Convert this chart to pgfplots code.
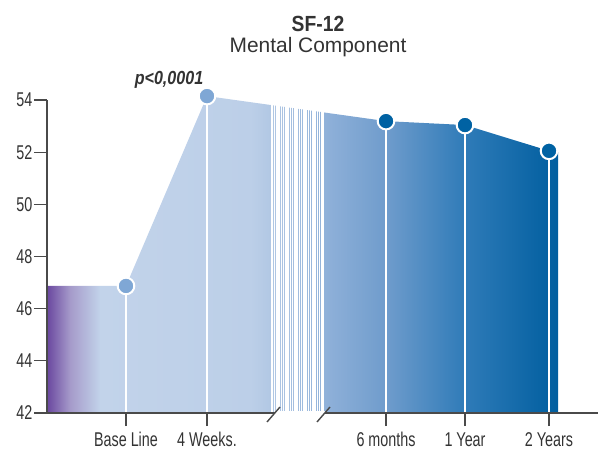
\documentclass[border=0pt]{standalone}
\usepackage{fontspec}
\setmainfont{Liberation Sans}
\newfontfamily\cond{Liberation Sans}[FakeStretch=0.72]
\newfontfamily\condt{Liberation Sans}[FakeStretch=0.88]
\newfontfamily\condp{Liberation Sans}[FakeStretch=0.85]
\usepackage{pgfplots}
\pgfplotsset{compat=1.18}
\definecolor{axisgray}{HTML}{4A4A4A}
\definecolor{txtgray}{HTML}{333333}
\definecolor{cP}{HTML}{6A479F}
\definecolor{cL1}{HTML}{A59ACA}
\definecolor{cL2}{HTML}{C2D3EA}
\definecolor{cL3}{HTML}{BCCFE8}
\definecolor{cL4}{HTML}{B2C8E4}
\definecolor{cM1}{HTML}{8DAFD8}
\definecolor{cM2}{HTML}{6F9CCC}
\definecolor{cM3}{HTML}{2F7BB8}
\definecolor{cD}{HTML}{005E9F}
\definecolor{ptlight}{HTML}{7FA7D5}
\definecolor{ptdark}{HTML}{0062A3}
\pgfdeclarehorizontalshading{areagrad}{100bp}{color(0bp)=(cP); color(25bp)=(cP); color(27.25bp)=(cL1); color(30.2bp)=(cL2); color(44.9bp)=(cL3); color(46.8bp)=(cL4); color(52.7bp)=(cM1); color(58.2bp)=(cM2); color(65.9bp)=(cM3); color(75bp)=(cD); color(100bp)=(cD)}
\begin{document}
\begin{tikzpicture}
\path[use as bounding box] (0,0) rectangle (606bp,453bp);
\begin{axis}[
  at={(47bp,40bp)}, anchor=south west,
  scale only axis, width=551bp, height=313bp,
  xmin=47, xmax=598, ymin=42, ymax=54,
  clip=false, axis on top,
  axis x line=bottom, axis y line=left,
  axis line style={-, draw=axisgray, line width=1.3bp},
  tick align=outside, major tick length=13bp,
  tick style={draw=axisgray, line width=1.3bp},
  ytick={42,44,46,48,50,52,54},
  yticklabels={42,44,46,48,50,52,54},
  xtick={126,207,386,465,549},
  xticklabels={Base Line,4 Weeks.,6 months,1 Year,2 Years},
  ticklabel style={font=\cond\fontsize{20}{22}\selectfont, text=txtgray},
  yticklabel style={inner sep=1.5bp},
  xticklabel style={inner sep=0bp, text height=14.5bp, text depth=4bp, yshift=-6bp},
]
% area
\addplot[draw=none, shade, shading=areagrad] coordinates {
 (47,42) (47,46.87) (126,46.87) (207,54.15) (386,53.19) (465,53.04) (549,52.05) (558,52.0) (558,42)};
% stripes in the break region
\addplot[white, line width=1.1bp, unbounded coords=jump] coordinates {
 (271.5,42) (271.5,54.3) (nan,nan)
 (272.6,42) (272.6,54.3) (nan,nan)
 (274.5,42) (274.5,54.3) (nan,nan)
 (276.2,42) (276.2,54.3) (nan,nan)
 (278.0,42) (278.0,54.3) (nan,nan)
 (279.8,42) (279.8,54.3) (nan,nan)
 (281.5,42) (281.5,54.3) (nan,nan)
 (283.4,42) (283.4,54.3) (nan,nan)
 (285.2,42) (285.2,54.3) (nan,nan)
 (287.0,42) (287.0,54.3) (nan,nan)
 (288.7,42) (288.7,54.3) (nan,nan)
 (290.6,42) (290.6,54.3) (nan,nan)
 (292.4,42) (292.4,54.3) (nan,nan)
 (294.1,42) (294.1,54.3) (nan,nan)
 (296.0,42) (296.0,54.3) (nan,nan)
 (297.8,42) (297.8,54.3) (nan,nan)
 (299.5,42) (299.5,54.3) (nan,nan)
 (301.4,42) (301.4,54.3) (nan,nan)
 (303.2,42) (303.2,54.3) (nan,nan)
 (305.0,42) (305.0,54.3) (nan,nan)
 (306.7,42) (306.7,54.3) (nan,nan)
 (308.6,42) (308.6,54.3) (nan,nan)
 (310.4,42) (310.4,54.3) (nan,nan)
 (312.1,42) (312.1,54.3) (nan,nan)
 (314.0,42) (314.0,54.3) (nan,nan)
 (315.8,42) (315.8,54.3) (nan,nan)
 (317.5,42) (317.5,54.3) (nan,nan)
 (319.4,42) (319.4,54.3) (nan,nan)
 (321.2,42) (321.2,54.3) (nan,nan)
 (322.8,42) (322.8,54.3) (nan,nan)
 (323.8,42) (323.8,54.3)};
% drop lines
\addplot[white, line width=2.2bp, unbounded coords=jump] coordinates {
 (126,42) (126,46.87) (nan,nan)
 (207,42) (207,54.15) (nan,nan)
 (386,42) (386,53.19) (nan,nan)
 (465,42) (465,53.04) (nan,nan)
 (549,42) (549,52.05)};
% markers
\addplot[only marks, mark=*, mark size=8.3bp, mark options={draw=white, line width=2bp, fill=ptlight}] coordinates {(126,46.87) (207,54.15)};
\addplot[only marks, mark=*, mark size=8.3bp, mark options={draw=white, line width=2bp, fill=ptdark}] coordinates {(386,53.19) (465,53.04) (549,52.05)};
% texts
\node[font=\condt\bfseries\fontsize{22}{24}\selectfont, text=txtgray, anchor=base] at (axis cs:318,56.645) {SF-12};
\node[font=\fontsize{21}{24}\selectfont, text=txtgray, anchor=base] at (axis cs:318,55.84) {Mental Component};
\node[font=\condp\bfseries\itshape\fontsize{19}{21}\selectfont, text=txtgray, anchor=base] at (axis cs:169,54.575) {p<0,0001};
% break helpers
\coordinate (brkA) at (axis cs:274.5,42);
\coordinate (brkB) at (axis cs:324.5,42);
\coordinate (s1a) at (axis cs:267,41.655);
\coordinate (s1b) at (axis cs:280,42.23);
\coordinate (s2a) at (axis cs:317,41.655);
\coordinate (s2b) at (axis cs:330,42.23);
\end{axis}
\draw[white, line width=3bp] (brkA) -- (brkB);
\draw[axisgray, line width=1.4bp] (s1a) -- (s1b);
\draw[axisgray, line width=1.4bp] (s2a) -- (s2b);
\end{tikzpicture}
\end{document}
